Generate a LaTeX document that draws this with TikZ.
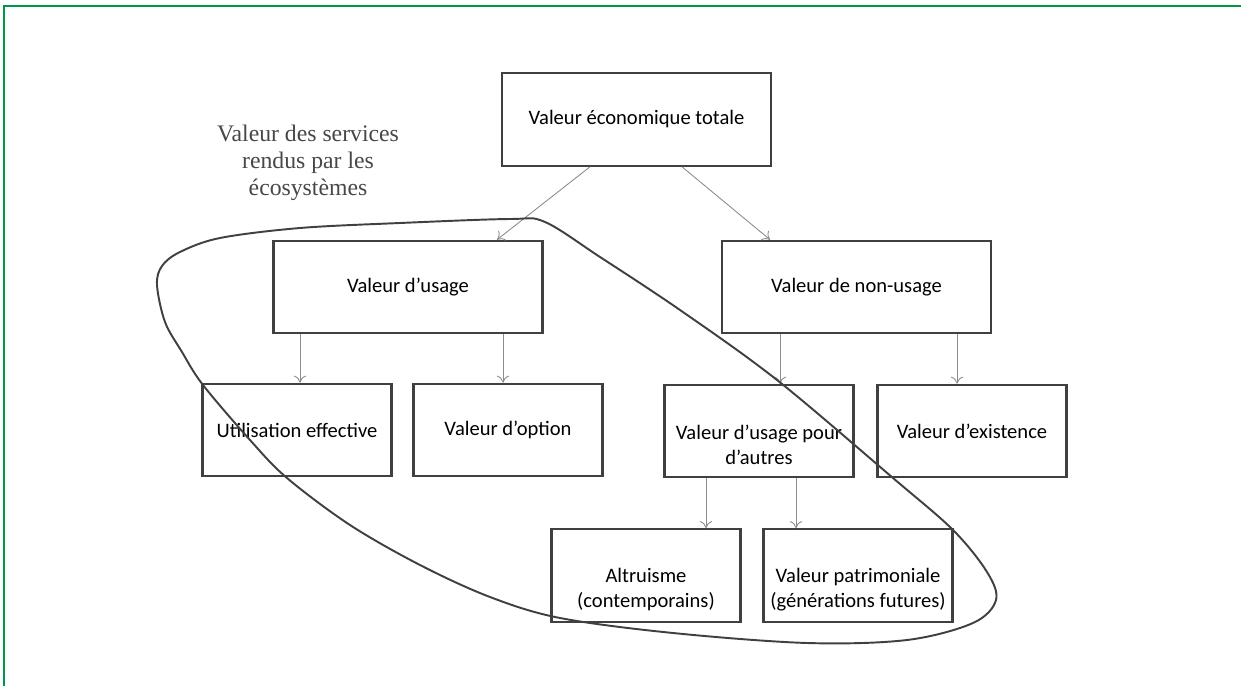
\documentclass[tikz,border=0pt]{standalone}
\usepackage{fontspec}
\setmainfont{Carlito}
\newfontfamily\ecofont{Liberation Serif}
\usetikzlibrary{arrows.meta}

\definecolor{cadrevert}{RGB}{0,152,70}
\newcommand{\basse}{\rule{0pt}{24pt}}

\begin{document}
\begin{tikzpicture}[x=0.02cm,y=-0.02cm,
   boite/.style={draw=black!75,line width=1.2pt,minimum height=1.85cm,align=center,
                 font=\fontsize{11.7}{14.5}\selectfont},
   grande/.style={boite,minimum width=5.38cm},
   petite/.style={boite,minimum width=3.78cm},
   fleche/.style={draw=black!45,line width=0.5pt,-{To[length=4pt,width=7pt]}}]
   \useasboundingbox (0,0) rectangle (1241,686);
   \draw[cadrevert,line width=0.9pt] (1241,6) -- (4,6) -- (4,686);

   \node[grande] (total) at (636.5,119.5) {Valeur économique totale};
   \node[grande] (usage) at (408,287) {Valeur d’usage};
   \node[grande] (nonusage) at (856.5,287) {Valeur de non-usage};

   \node[petite] (effective) at (297,430) {Utilisation effective};
   \node[petite] (option) at (508,430) {Valeur d’option};
   \node[petite] (autres) at (759,431) {\basse Valeur d’usage pour\\d’autres};
   \node[petite] (existence) at (972,431) {Valeur d’existence};

   \node[petite] (altruisme) at (646,575.5) {\basse Altruisme\\(contemporains)};
   \node[petite] (patrimoine) at (858,575.5) {\basse Valeur patrimoniale\\(générations futures)};

   \node[text=black!72,align=center,font=\ecofont\fontsize{13.5}{15.4}\selectfont]
      (services) at (308,163) {Valeur des services\\rendus par les\\écosystèmes};

   % liens
   \draw[fleche] ([xshift=-0.93cm]total.south) -- ([xshift=1.78cm]usage.north);
   \draw[fleche] ([xshift=0.91cm]total.south) -- ([xshift=-1.73cm]nonusage.north);
   \draw[fleche] (usage.south -| 300,0) -- (effective.north -| 300,0);
   \draw[fleche] (usage.south -| 503,0) -- (option.north -| 503,0);
   \draw[fleche] (nonusage.south -| 780,0) -- (autres.north -| 780,0);
   \draw[fleche] (nonusage.south -| 957,0) -- (existence.north -| 957,0);
   \draw[fleche] (autres.south -| 706,0) -- (altruisme.north -| 706,0);
   \draw[fleche] (autres.south -| 796,0) -- (patrimoine.north -| 796,0);

   % boucle des services
   \draw[black!75,line width=1.1pt] plot[smooth cycle,tension=0.55] coordinates {
      (157,285) (165,322) (182,352) (203,385) (250,440) (287,478) (350,525)
      (420,565) (490,597) (560,618) (673,633) (807,643) (907,640) (973,623)
      (996,600) (987,572) (953,530) (893,478) (777,380) (680,310) (600,257)
      (545,222) (510,219) (400,223) (300,228) (220,238) (180,252)
      (162,266)};
\end{tikzpicture}
\end{document}
